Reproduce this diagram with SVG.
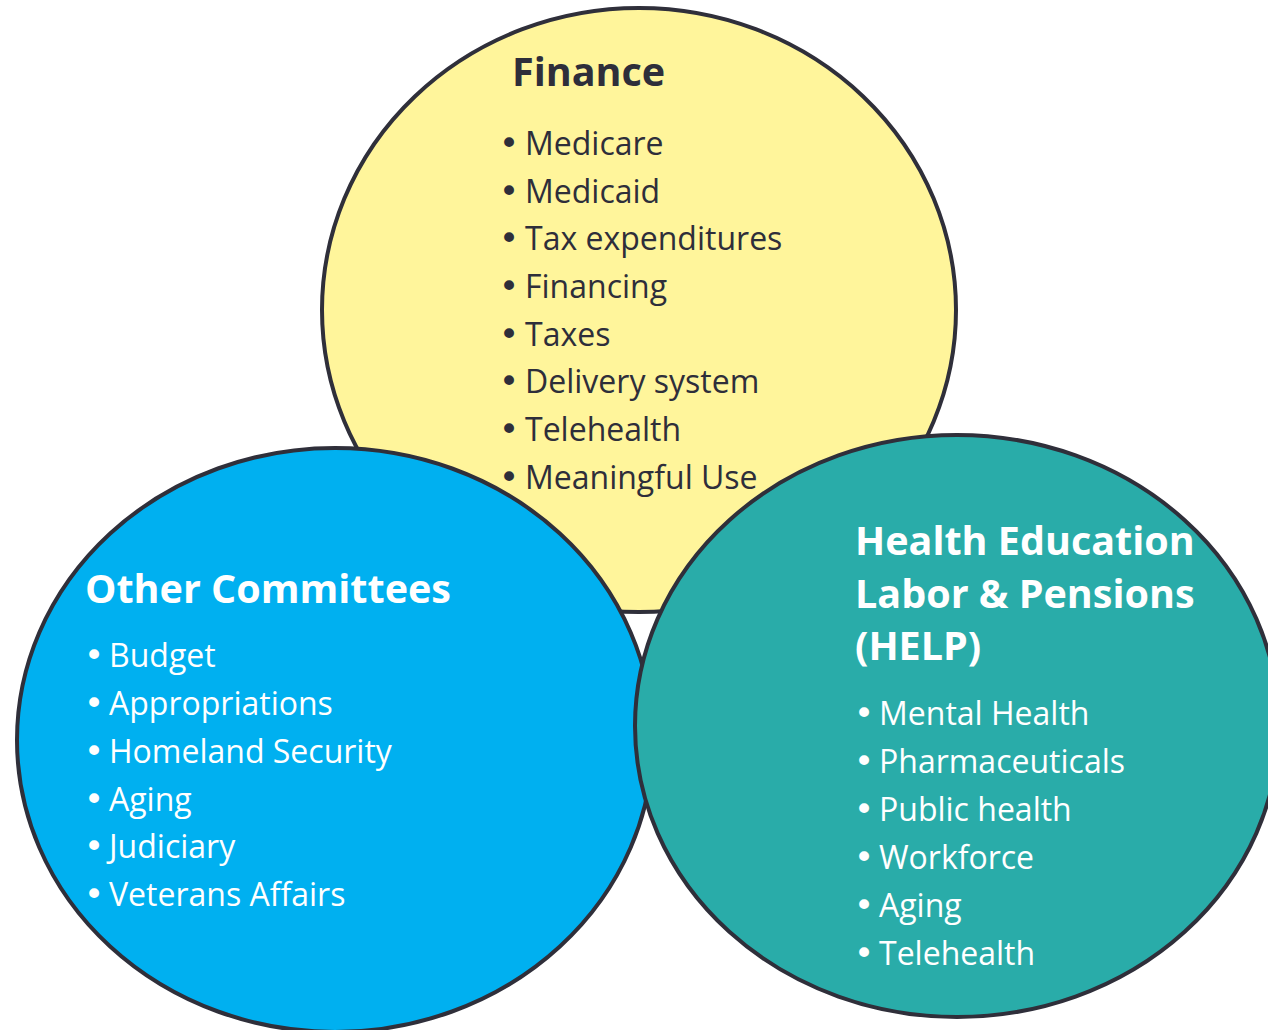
<svg xmlns="http://www.w3.org/2000/svg" width="1268" height="1030" viewBox="0 0 1268 1030">
<style>
.circ{stroke:#2f2f3a;stroke-width:4}
.t{font-family:"Open Sans","Liberation Sans",sans-serif;font-size:32px}
.b{font-family:"DejaVu Sans",sans-serif;font-size:34px}
.h{font-family:"Open Sans","Liberation Sans",sans-serif;font-size:39.5px;font-weight:bold}
.dark{fill:#2e2e3a}
.light{fill:#ffffff}
</style>
<rect width="1268" height="1030" fill="#ffffff"/>
<g id="finance">
<ellipse class="circ" cx="639" cy="310" rx="317" ry="302" fill="#fff59b"/>
<text class="h dark" x="512" y="86">Finance</text>
<g class="t dark">
<text y="155"><tspan class="b" x="499">•</tspan><tspan x="525">Medicare</tspan></text>
<text y="203"><tspan class="b" x="499">•</tspan><tspan x="525">Medicaid</tspan></text>
<text y="250"><tspan class="b" x="499">•</tspan><tspan x="525">Tax expenditures</tspan></text>
<text y="298"><tspan class="b" x="499">•</tspan><tspan x="525">Financing</tspan></text>
<text y="346"><tspan class="b" x="499">•</tspan><tspan x="525">Taxes</tspan></text>
<text y="393"><tspan class="b" x="499">•</tspan><tspan x="525">Delivery system</tspan></text>
<text y="441"><tspan class="b" x="499">•</tspan><tspan x="525">Telehealth</tspan></text>
<text y="489"><tspan class="b" x="499">•</tspan><tspan x="525">Meaningful Use</tspan></text>
</g>
</g>
<g id="other">
<ellipse class="circ" cx="335" cy="740" rx="318" ry="292" fill="#00b0f0"/>
<text class="h light" x="85" y="603">Other Committees</text>
<g class="t light">
<text y="667"><tspan class="b" x="84">•</tspan><tspan x="109">Budget</tspan></text>
<text y="715"><tspan class="b" x="84">•</tspan><tspan x="109">Appropriations</tspan></text>
<text y="763"><tspan class="b" x="84">•</tspan><tspan x="109">Homeland Security</tspan></text>
<text y="811"><tspan class="b" x="84">•</tspan><tspan x="109">Aging</tspan></text>
<text y="858"><tspan class="b" x="84">•</tspan><tspan x="109">Judiciary</tspan></text>
<text y="906"><tspan class="b" x="84">•</tspan><tspan x="109">Veterans Affairs</tspan></text>
</g>
</g>
<g id="help">
<ellipse class="circ" cx="957" cy="726" rx="322" ry="291" fill="#29aca9"/>
<text class="h light" x="855" y="555">Health Education</text>
<text class="h light" x="855" y="608">Labor &amp; Pensions</text>
<text class="h light" x="855" y="660">(HELP)</text>
<g class="t light">
<text y="725"><tspan class="b" x="854">•</tspan><tspan x="879">Mental Health</tspan></text>
<text y="773"><tspan class="b" x="854">•</tspan><tspan x="879">Pharmaceuticals</tspan></text>
<text y="821"><tspan class="b" x="854">•</tspan><tspan x="879">Public health</tspan></text>
<text y="869"><tspan class="b" x="854">•</tspan><tspan x="879">Workforce</tspan></text>
<text y="917"><tspan class="b" x="854">•</tspan><tspan x="879">Aging</tspan></text>
<text y="965"><tspan class="b" x="854">•</tspan><tspan x="879">Telehealth</tspan></text>
</g>
</g>
<g id="connectors"/>
</svg>
